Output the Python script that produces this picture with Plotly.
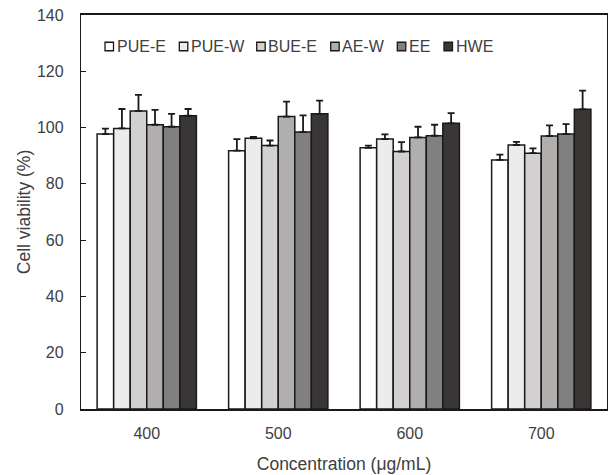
import plotly.graph_objects as go

categories = ["400", "500", "600", "700"]
series_names = ["PUE-E", "PUE-W", "BUE-E", "AE-W", "EE", "HWE"]
series_colors = ["#ffffff", "#ececec", "#d2d0d0", "#b1aeae", "#808080", "#3a3636"]

values = {
    "PUE-E": [97.7, 91.8, 92.8, 88.5],
    "PUE-W": [99.7, 96.2, 95.9, 93.8],
    "BUE-E": [105.9, 93.6, 91.5, 90.9],
    "AE-W": [101.0, 103.9, 96.5, 97.0],
    "EE": [100.3, 98.4, 97.1, 97.7],
    "HWE": [104.2, 104.9, 101.5, 106.5],
}
errors = {
    "PUE-E": [1.9, 4.1, 0.8, 1.9],
    "PUE-W": [6.9, 0.5, 1.7, 1.1],
    "BUE-E": [5.7, 1.8, 3.3, 1.7],
    "AE-W": [5.3, 5.3, 3.8, 3.8],
    "EE": [4.6, 5.9, 3.9, 3.5],
    "HWE": [2.4, 4.7, 3.6, 6.6],
}

y_ticks = [0, 20, 40, 60, 80, 100, 120, 140]

FONT = "Liberation Sans, Arial, sans-serif"
TEXT = "#404040"

fig = go.Figure()
for name, color in zip(series_names, series_colors):
    fig.add_trace(go.Bar(
        x=categories,
        y=values[name],
        name=name,
        marker=dict(color=color, line=dict(color="#1a1a1a", width=1.5)),
        error_y=dict(type="data", symmetric=False, array=errors[name],
                     arrayminus=[0] * len(categories),
                     color="#1a1a1a", thickness=1.8, width=3.5),
        showlegend=False,
    ))

W, H = 608, 475
L, T = 81, 15
R = W - 607
B = H - 409
pw, ph = W - L - R, H - T - B

# Manual legend (small squares + labels), positions in pixels
legend_sq_left = [105, 179.3, 256.7, 330.7, 397.3, 444]
sq = 8.5
ly = 46.5
for name, color, xl in zip(series_names, series_colors, legend_sq_left):
    x0 = (xl - L) / pw
    x1 = (xl + sq - L) / pw
    y0 = (H - B - (ly + sq / 2)) / ph
    y1 = (H - B - (ly - sq / 2)) / ph
    fig.add_shape(type="rect", xref="paper", yref="paper", x0=x0, x1=x1, y0=y0, y1=y1,
                  fillcolor=color, line=dict(color="#1a1a1a", width=1.3))
    fig.add_annotation(xref="paper", yref="paper", x=(xl + sq + 1 - L) / pw,
                       y=(H - B - ly) / ph, text=name, showarrow=False,
                       xanchor="left", yanchor="middle",
                       font=dict(family=FONT, size=16, color=TEXT))

fig.update_layout(
    width=W, height=H,
    margin=dict(l=L, r=R, t=T, b=B, autoexpand=False),
    plot_bgcolor="white", paper_bgcolor="white",
    barmode="group", bargap=0.245, bargroupgap=0,
    font=dict(family=FONT, size=15, color=TEXT),
)
fig.update_xaxes(
    showline=True, linecolor="#1a1a1a", linewidth=1.5, mirror=True,
    ticks="", tickfont=dict(size=16, color=TEXT), ticklabelstandoff=9,
    title=dict(text="Concentration (μg/mL)", font=dict(size=17.5, color=TEXT), standoff=17),
    showgrid=False, automargin=False,
)
fig.update_yaxes(
    range=[0, 140], tickvals=y_ticks, showline=True, linecolor="#1a1a1a",
    linewidth=1.3, mirror=True, ticks="inside", ticklen=5, tickcolor="#1a1a1a",
    tickfont=dict(size=16, color=TEXT), ticklabelstandoff=13, ticklabeloverflow="allow",
    title=dict(text="Cell viability (%)", font=dict(size=17.5, color=TEXT), standoff=1),
    showgrid=False, zeroline=False, automargin=False,
)

fig.write_html("out.html", config={"displayModeBar": False},
               post_script="document.body.style.margin='0';")
